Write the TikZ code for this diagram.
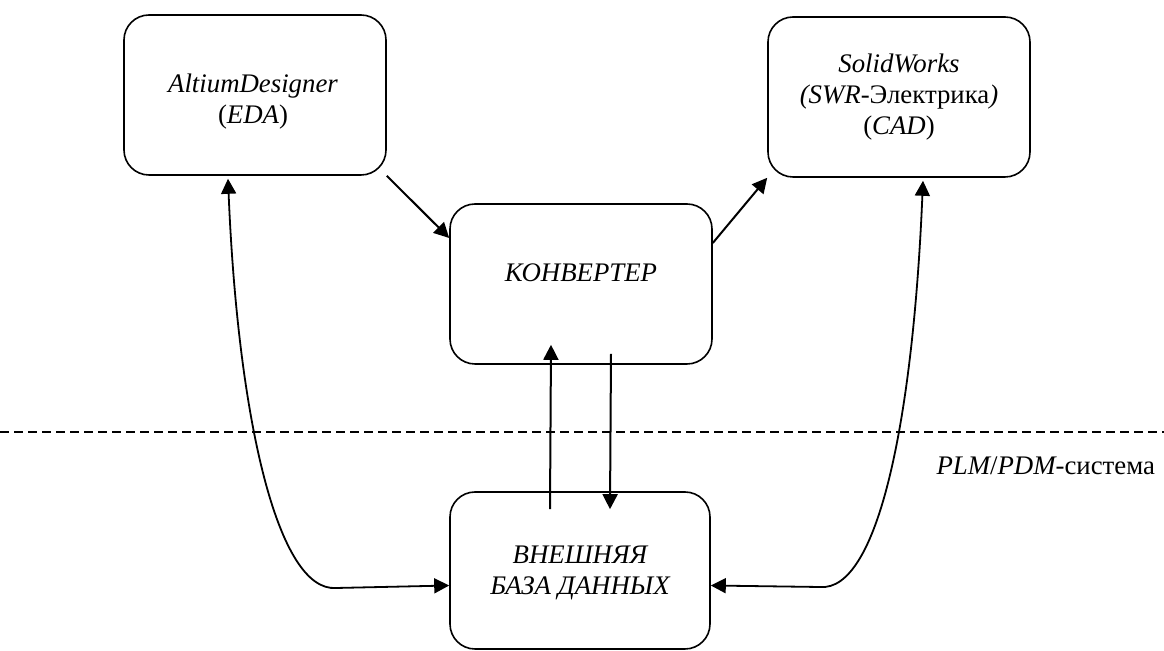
\documentclass[tikz,border=0pt]{standalone}
\usepackage{fontspec}
\setmainfont{Liberation Serif}
\usetikzlibrary{arrows.meta}
\tikzset{every node/.style={font=\fontsize{13.4}{15.5}\selectfont},line cap=round,line join=round}

\begin{document}
\begin{tikzpicture}[x=0.5pt,y=-0.5pt,
  blok/.style={draw,line width=0.8pt,rounded corners=12.5pt,minimum width=131pt,minimum height=80pt,align=center,inner sep=0pt},
  strelka/.style={line width=1pt,-{Triangle[length=7.5pt,width=7.5pt]}},
  dvoyn/.style={line width=0.9pt,{Triangle[length=7.5pt,width=7.5pt]}-{Triangle[length=7.5pt,width=7.5pt]}}]
  \path[use as bounding box] (0,0) rectangle (1164,651);
  % boxes
  \node[blok] (altium) at (255,95) {};
  \node[align=center] (altiumtxt) at (253,102) {{\itshape AltiumDesigner}\\({\itshape EDA})};
  \node[blok] (solid) at (899,97) {{\itshape SolidWorks}\\{\itshape (SWR}-Электрика{\itshape )}\\({\itshape CAD})};
  \node[blok] (konv) at (581,284) {};
  \node (konvtxt) at (581,273) {\itshape КОНВЕРТЕР};
  \node[blok,minimum width=130pt,minimum height=78.5pt] (baza) at (580,570.5) {};
  \node[align=center] (bazatxt) at (580,573) {{\itshape ВНЕШНЯЯ}\\{\itshape БАЗА ДАННЫХ}};
  % PLM/PDM boundary
  \draw[line width=0.6pt,dash pattern=on 4.5pt off 2.5pt,line cap=butt] (0,432) -- (1164,432);
  \node[anchor=east] (plm) at (1162,466) {{\itshape PLM}/{\itshape PDM}-система};
  % arrows
  \draw[strelka] (altium.south east) -- ([yshift=23pt]konv.west);
  \draw[strelka] ([yshift=20.5pt]konv.east) -- (solid.south west);
  \draw[strelka] ([xshift=-15pt,yshift=-9pt]baza.north) -- ([xshift=-15pt,yshift=10pt]konv.south);
  \draw[strelka] ([xshift=15pt,yshift=5.5pt]konv.south) -- ([xshift=15pt,yshift=-9pt]baza.north);
  \coordinate (levo) at (336,588);
  \coordinate (pravo) at (820,587);
  \draw[dvoyn] ([xshift=-13.5pt,yshift=-1.5pt]altium.south) .. controls (238,420) and (278,592) .. (levo) -- ([yshift=-7.5pt]baza.west);
  \draw[dvoyn] ([xshift=12pt,yshift=-1.5pt]solid.south) .. controls (913,420) and (878,592) .. (pravo) -- ([yshift=-7.5pt]baza.east);
\end{tikzpicture}
\end{document}
